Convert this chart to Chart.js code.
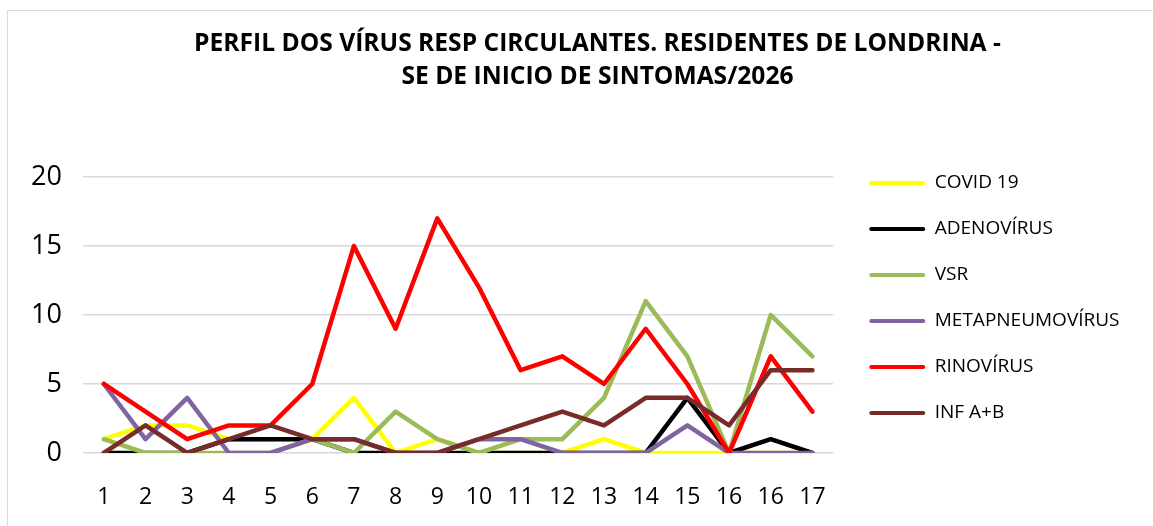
<!DOCTYPE html>
<html>
<head>
<meta charset="utf-8">
<script src="https://cdn.jsdelivr.net/npm/chart.js@4.4.1/dist/chart.umd.min.js"></script>
<style>
  html, body { margin: 0; padding: 0; background: #fff; }
  #wrap { position: relative; width: 1153px; height: 526px; overflow: hidden; }
  #frame { position: absolute; left: 7px; top: 10px; width: 1200px; height: 600px; border: 1px solid #d9d9d9; }
  #myChart { position: absolute; left: 0; top: 0; }
</style>
</head>
<body>
<div id="wrap">
  <div id="frame"></div>
  <canvas id="myChart" width="1153" height="526"></canvas>
</div>
<script>
// semanas epidemiológicas (o original repete o 16)
const semanas = ["1", "2", "3", "4", "5", "6", "7", "8", "9", "10", "11", "12", "13", "14", "15", "16", "16", "17"];

const covid19         = [1, 2, 2, 1, 1, 1, 4, 0, 1, 0, 0, 0, 1, 0, 0, 0, 0, 0];
const adenovirus      = [0, 0, 0, 1, 1, 1, 0, 0, 0, 0, 0, 0, 0, 0, 4, 0, 1, 0];
const vsr             = [1, 0, 0, 0, 0, 1, 0, 3, 1, 0, 1, 1, 4, 11, 7, 0, 10, 7];
const metapneumovirus = [5, 1, 4, 0, 0, 1, 1, 0, 0, 1, 1, 0, 0, 0, 2, 0, 0, 0];
const rinovirus       = [5, 3, 1, 2, 2, 5, 15, 9, 17, 12, 6, 7, 5, 9, 5, 0, 7, 3];
const infAB           = [0, 2, 0, 1, 2, 1, 1, 0, 0, 1, 2, 3, 2, 4, 4, 2, 6, 6];

const yTicks = [0, 5, 10, 15, 20];

const tituloLinhas = [
    "PERFIL DOS VÍRUS RESP CIRCULANTES. RESIDENTES DE LONDRINA -",
    "SE DE INICIO DE SINTOMAS/2026"
];

const series = [
    { label: "COVID 19", data: covid19, color: "#FFFF00" },
    { label: "ADENOVÍRUS", data: adenovirus, color: "#000000" },
    { label: "VSR", data: vsr, color: "#9BBB59" },
    { label: "METAPNEUMOVÍRUS", data: metapneumovirus, color: "#8064A2" },
    { label: "RINOVÍRUS", data: rinovirus, color: "#FF0000" },
    { label: "INF A+B", data: infAB, color: "#772C2A" }
];

const FONTE = "'Open Sans', 'DejaVu Sans', sans-serif";

// ajusta legenda e título para a posição do original
const ajustePosicoes = {
    id: "ajustePosicoes",
    afterLayout(chart) {
        const lg = chart.legend;
        lg.top += 35;
        lg.bottom += 35;
        lg.left += 9;
        lg.right += 9;
        const tt = chart.titleBlock;
        tt.left += 42;
        tt.right += 42;
    }
};

const ctx = document.getElementById("myChart").getContext("2d");

const chart = new Chart(ctx, {
    type: "line",
    data: {
        labels: semanas,
        datasets: series.map((s, i) => ({
            label: s.label,
            data: s.data,
            borderColor: s.color,
            backgroundColor: s.color,
            borderWidth: 4.5,
            pointRadius: 0,
            tension: 0,
            borderJoinStyle: "round",
            borderCapStyle: "round",
            order: series.length - i
        }))
    },
    options: {
        responsive: false,
        animation: false,
        layout: { padding: { top: 0, right: 42, bottom: 0, left: 0 } },
        scales: {
            x: {
                offset: true,
                afterFit: (scale) => { scale.height = 73; },
                grid: { display: false, drawTicks: false },
                border: { display: false },
                ticks: {
                    color: "#000",
                    padding: 31,
                    maxRotation: 0,
                    autoSkip: false,
                    font: { family: FONTE, size: 23 }
                }
            },
            y: {
                min: 0,
                max: 20,
                afterBuildTicks: (scale) => {
                    scale.ticks = yTicks.map(v => ({ value: v }));
                },
                afterFit: (scale) => { scale.width = 83; },
                grid: { color: "#d9d9d9", lineWidth: 1.5, drawTicks: false },
                border: { display: false },
                ticks: {
                    color: "#000",
                    padding: 21,
                    font: { family: FONTE, size: 27 }
                }
            }
        },
        plugins: {
            title: {
                display: true,
                text: tituloLinhas,
                color: "#000",
                font: { family: FONTE, size: 24.6, weight: "bold", lineHeight: 1.34 },
                padding: { top: 28, bottom: 83 }
            },
            legend: {
                position: "right",
                labels: {
                    color: "#000",
                    boxWidth: 56,
                    boxHeight: 4,
                    padding: 27,
                    font: { family: FONTE, size: 19 },
                    generateLabels: (chart) => {
                        const items = Chart.defaults.plugins.legend.labels.generateLabels(chart);
                        items.sort((a, b) => a.datasetIndex - b.datasetIndex);
                        items.forEach(it => { it.lineWidth = 0; it.borderRadius = 2; });
                        return items;
                    },
                    useBorderRadius: true,
                    borderRadius: 2
                }
            },
            tooltip: { enabled: false }
        }
    },
    plugins: [ajustePosicoes]
});
</script>
</body>
</html>
